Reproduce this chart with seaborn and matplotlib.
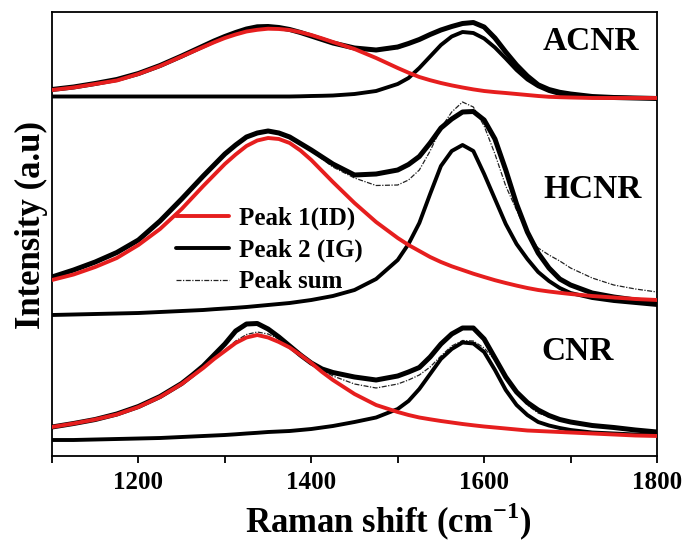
import numpy as np
import pandas as pd
import matplotlib
matplotlib.use("Agg")
import matplotlib.pyplot as plt
from matplotlib.lines import Line2D
import seaborn as sns

# ---- data: Raman shift grid (cm-1) and intensities (a.u., incl. vertical offsets) ----
shift = [1100, 1125, 1150, 1175, 1200, 1225, 1250,
         1262.5, 1275, 1287.5, 1300, 1312.5, 1325, 1337.5, 1350, 1362.5, 1375, 1387.5, 1400, 1412.5, 1425,
         1450, 1475, 1500,
         1512.5, 1525, 1537.5, 1550, 1562.5, 1575, 1587.5, 1600, 1612.5, 1625, 1637.5, 1650, 1662.5, 1675,
         1687.5, 1700,
         1725, 1750, 1775, 1800]

acnr_data = [366.5, 369, 372.5, 376.5, 382.5, 390.5, 400,
             405, 410, 415, 419.5, 423.5, 427, 429.2, 429.5, 428.5, 426.5, 423.5, 420, 416.5, 413,
             408, 406, 409,
             412.5, 416.5, 421.5, 426, 429.5, 432.5, 433.5, 429, 418, 404, 391, 380, 371.2, 366.5, 363.7, 362,
             359.5, 358.5, 358, 357.5]
acnr_peak1 = [366, 368.5, 372, 375.5, 382, 390, 399.5,
              404.3, 409, 413.7, 418, 421.5, 424.5, 426.2, 427.3, 427, 426, 423.8, 421, 417.6, 414,
              407, 398, 388,
              383.3, 379, 375.8, 373, 370.6, 368.5, 366.6, 365, 363.9, 363, 362, 361, 360, 359.2, 358.8, 358.5,
              358, 358, 358, 358]
acnr_peak2 = [359.5, 359.5, 359.5, 359.5, 359.5, 359.5, 359.5,
              359.5, 359.5, 359.5, 359.5, 359.5, 359.5, 359.5, 359.5, 359.5, 359.5, 359.7, 360, 360.2, 360.5,
              362, 365, 372,
              378, 388, 399.5, 411, 419.5, 424, 423, 417.5, 408.5, 397.5, 386, 376.5, 369.7, 365, 362, 360.5,
              359, 358.5, 358, 358]
acnr_sum = [366.5, 369, 372.5, 376, 382.5, 390.5, 400,
            404.5, 409.5, 414.5, 419, 422.5, 426, 428, 428.5, 428, 426, 423.5, 420.5, 417, 413.5,
            408.5, 405, 407.5,
            411.5, 416, 421.5, 426.5, 430.5, 433, 432.5, 427.5, 416.5, 403, 390, 379, 370.5, 366, 363, 361.5,
            359.5, 358.5, 358, 357.5]

hcnr_data = [179, 186, 194, 203.5, 216, 235, 257,
             268.5, 280, 291, 302, 311, 319, 323, 325, 323, 319, 312.5, 306, 299, 292,
             281, 282, 286,
             291.5, 299.5, 313, 328, 337, 344, 344.5, 336, 317, 286, 252, 224, 203, 188, 177, 171,
             163, 159, 156, 154]
hcnr_peak1 = [176, 181.5, 189, 198, 211, 227, 247,
              258.5, 270, 281, 292, 301.5, 310, 315.5, 318, 317, 313, 305.5, 296, 285, 274,
              253, 234, 218,
              211, 205, 199, 194, 189.7, 186, 182.3, 179, 175.8, 173, 170.4, 168, 166, 164.5, 163.2, 162,
              160, 158.5, 157, 156]
hcnr_peak2 = [141, 141.5, 142, 142.5, 143, 144, 145,
              145.5, 146, 146.8, 147.5, 148.2, 149, 150, 151, 152, 153, 154.5, 156, 158, 160,
              166, 177, 196,
              212, 233, 262, 290, 305, 311, 305, 282, 257, 232, 212, 197, 184, 175, 168, 163,
              158, 155, 153, 151]
hcnr_sum = [179, 186, 194, 203.5, 216, 235, 257,
            268.5, 280, 291, 302, 311, 319, 323, 325, 323.5, 320, 313, 305, 297, 289,
            278, 270.5, 271,
            276, 286, 305, 328, 344, 354, 349, 330, 302, 270, 246, 222, 208, 201, 195, 188,
            178, 171, 167, 164]

cnr_data = [29, 32.5, 36.5, 42, 49.5, 59.5, 72.5,
            81, 90, 101, 112, 125, 132, 132.5, 127, 119, 110, 101, 93, 87, 83.5,
            79, 76, 80,
            84, 88.5, 99, 112, 122, 128, 128, 117, 98, 79, 64, 53.5, 46, 40.5, 36.5, 34,
            30.5, 28.5, 26, 24]
cnr_peak1 = [29, 32.5, 36.5, 41.5, 49, 59, 72,
             80, 88, 97, 105, 113, 118.5, 121, 118.5, 114, 108.5, 101, 93, 84, 76,
             62, 51, 44,
             41, 38.5, 36.7, 35, 33.5, 32, 30.7, 29.5, 28.5, 27.5, 26.5, 25.5, 25, 24.5, 24, 23.5,
             22.5, 21.5, 20.5, 20]
cnr_peak2 = [16, 16, 16.5, 17, 17.5, 18, 19,
             19.5, 20, 20.5, 21, 21.7, 22.5, 23.2, 24, 24.5, 25, 26, 27, 28.5, 30,
             34, 38.5, 47,
             55, 67, 82, 97, 107, 113.5, 112.5, 104, 86, 66, 51, 41, 34, 30.5, 28, 26,
             23.5, 22.5, 21.5, 21]
cnr_sum = [29, 32.5, 36.5, 41.5, 49, 59, 72,
           80, 88, 97, 106, 115, 121.5, 124, 122, 117, 111, 103, 94, 86, 80,
           72, 68, 72,
           76, 81, 89, 100, 110, 115.5, 115, 108, 96, 80, 63, 51, 43, 39, 36, 33.5,
           30, 28, 25.5, 23.5]

samples = ["ACNR", "HCNR", "CNR"]
legend_labels = ["Peak 1(ID)", "Peak 2 (IG)", "Peak sum"]
xticks_major = [1200, 1400, 1600, 1800]
xticks_minor = [1100, 1300, 1500, 1700]

series = {
    "ACNR": (acnr_data, acnr_peak1, acnr_peak2, acnr_sum),
    "HCNR": (hcnr_data, hcnr_peak1, hcnr_peak2, hcnr_sum),
    "CNR": (cnr_data, cnr_peak1, cnr_peak2, cnr_sum),
}

# ---- style ----
sns.set_style("ticks")
plt.rcParams["font.family"] = ["Liberation Serif", "DejaVu Serif"]
plt.rcParams["font.weight"] = "bold"
plt.rcParams["text.color"] = "black"
plt.rcParams["axes.labelcolor"] = "black"
plt.rcParams["xtick.color"] = "black"
plt.rcParams["mathtext.fontset"] = "custom"
plt.rcParams["mathtext.rm"] = "Liberation Serif:bold"
plt.rcParams["mathtext.bf"] = "Liberation Serif:bold"

fig = plt.figure(figsize=(6.84, 5.44), dpi=100)
ax = fig.add_axes([52 / 684, 88 / 544, 605 / 684, 444 / 544])

RED = "#e61e1e"
DASH = (0, (4, 1.2, 1, 1.2))
for name in samples:
    d, p1, p2, s = series[name]
    sns.lineplot(x=shift, y=s, ax=ax, color="#222222", lw=0.9, zorder=1.5, linestyle=DASH)
    sns.lineplot(x=shift, y=d, ax=ax, color="black", lw=3.6, zorder=2)
    sns.lineplot(x=shift, y=p2, ax=ax, color="black", lw=2.8, zorder=3)
    sns.lineplot(x=shift, y=p1, ax=ax, color=RED, lw=2.8, zorder=3.5)

label_pos = {"ACNR": (1724, 414), "HCNR": (1725, 267), "CNR": (1708, 105)}
for name in samples:
    x, y = label_pos[name]
    ax.text(x, y, name, fontsize=24, fontweight="bold", ha="center", va="center", color="black")

ax.set_xlim(1100, 1800)
ax.set_ylim(0, 444)
ax.set_xticks(xticks_major)
ax.set_xticks(xticks_minor, minor=True)
ax.set_yticks([])
ax.tick_params(axis="x", which="both", direction="out", length=5, width=1.3,
               labelsize=18, pad=6, top=False, colors="black")
for lab in ax.get_xticklabels():
    lab.set_fontweight("bold")
for sp in ax.spines.values():
    sp.set_linewidth(1.3)
    sp.set_color("black")

ax.set_xlabel(r"Raman shift (cm$^{\mathbf{-1}}$)", fontsize=25, fontweight="bold")
ax.xaxis.set_label_coords(0.555, -0.1)
ax.set_ylabel("Intensity (a.u)", fontsize=25, fontweight="bold")
ax.yaxis.set_label_coords(-0.007, 0.52)

handles = [
    Line2D([], [], color=RED, lw=2.8),
    Line2D([], [], color="black", lw=2.8),
    Line2D([], [], color="#222222", lw=0.9, linestyle=DASH),
]
ax.legend(handles, legend_labels, loc="upper left", bbox_to_anchor=(0.205, 0.562),
          frameon=False, prop={"family": "Liberation Serif", "weight": "bold", "size": 18},
          handlelength=2.1, handletextpad=0.4, labelspacing=0.34, borderpad=0, borderaxespad=0)

fig.savefig("out.png", dpi=100)
